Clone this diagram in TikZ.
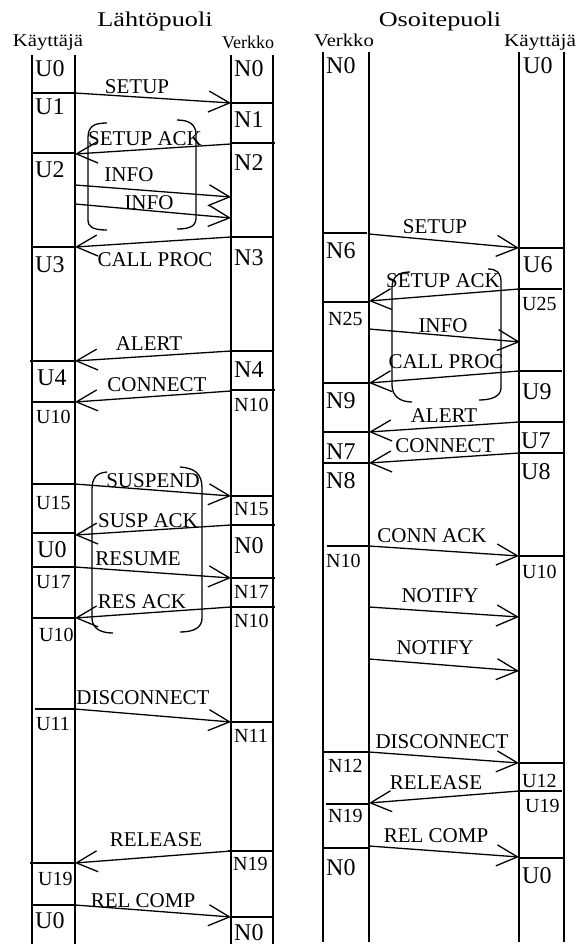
\documentclass[tikz,border=0pt]{standalone}
\usepackage{fontspec}
\setmainfont{Liberation Serif}
\usetikzlibrary{arrows.meta}
\tikzset{
  life/.style={line width=1.3pt},
  divline/.style={line width=1.3pt},
  msg/.style={line width=1.3pt,-{Straight Barb[length=21pt,width=21pt,line width=1.3pt]}},
  lbl/.style={font=\fontsize{21}{21}\selectfont,anchor=base,inner sep=0pt},
  bigst/.style={font=\fontsize{24}{24}\selectfont,anchor=base west,inner sep=0pt},
  smst/.style={font=\fontsize{20}{20}\selectfont,anchor=base west,inner sep=0pt},
  ttl/.style={font=\fontsize{21}{21}\selectfont,anchor=base,inner sep=0pt,xscale=1.25},
  hdr/.style={font=\fontsize{18}{18}\selectfont,anchor=base,inner sep=0pt},
  brk/.style={line width=1.3pt}
}
\newcommand{\msgto}[8]{%
  \coordinate (#1s) at (#2,#3);
  \coordinate (#1e) at (#4,#5);
  \draw[msg] (#1s) -- (#1e);
  \node[lbl] (#1l) at (#6,#7) {#8};}
\newcommand{\dv}[3]{\draw[divline] (#1,#3) -- (#2,#3);}
\begin{document}
\begin{tikzpicture}[x=1pt,y=-1pt]
\fill[white] (0,0) rectangle (578,944);
\useasboundingbox (0,0) rectangle (578,944);
% titles and headers
\node[ttl] (t1) at (155,27) {Lähtöpuoli};
\node[ttl] (t2) at (440,27) {Osoitepuoli};
\node[hdr,xscale=1.15] (h1) at (48,47) {Käyttäjä};
\node[hdr] (h2) at (248,49) {Verkko};
\node[hdr,xscale=1.15] (h3) at (344,47) {Verkko};
\node[hdr,xscale=1.18] (h4) at (540,47) {Käyttäjä};
% lifelines
\draw[life] (32,55) -- (32,944);
\draw[life] (75,55) -- (75,944);
\draw[life] (231,55) -- (231,944);
\draw[life] (273,55) -- (273,944);
\draw[life] (323,52) -- (323,942);
\draw[life] (369,52) -- (369,942);
\draw[life] (519,52) -- (519,942);
\draw[life] (564,52) -- (564,942);
% left user column
\node[bigst] (a1) at (35,77) {U0};
\dv{32}{75}{93}
\node[bigst] (a2) at (35,115) {U1};
\dv{32}{75}{153}
\node[bigst] (a3) at (35,178) {U2};
\dv{32}{75}{247}
\node[bigst] (a4) at (35,272) {U3};
\dv{30}{75}{361}
\node[bigst] (a5) at (37,385) {U4};
\dv{32}{75}{402}
\node[smst] (a6) at (36,423) {U10};
\dv{32}{75}{484}
\node[smst] (a7) at (36,509) {U15};
\dv{32}{75}{533}
\node[bigst] (a8) at (37,557) {U0};
\dv{32}{75}{567}
\node[smst] (a9) at (36,588) {U17};
\dv{32}{75}{618}
\node[smst] (a10) at (39,641) {U10};
\dv{35}{75}{709}
\node[smst] (a11) at (36,730) {U11};
\dv{30}{75}{863}
\node[smst] (a12) at (38,885) {U19};
\dv{32}{75}{905}
\node[bigst] (a13) at (35,928) {U0};
% left network column
\node[bigst] (b1) at (234,77) {N0};
\dv{231}{273}{103}
\node[bigst] (b2) at (234,128) {N1};
\dv{231}{275}{143}
\node[bigst] (b3) at (234,171) {N2};
\dv{231}{273}{237}
\node[bigst] (b4) at (234,265) {N3};
\dv{231}{273}{351}
\node[bigst] (b5) at (234,377) {N4};
\dv{231}{275}{390}
\node[smst] (b6) at (234,411) {N10};
\dv{231}{273}{496}
\node[smst] (b7) at (234,515) {N15};
\dv{231}{275}{525}
\node[bigst] (b8) at (234,553) {N0};
\dv{231}{275}{578}
\node[smst] (b9) at (234,598) {N17};
\dv{231}{275}{607}
\node[smst] (b10) at (234,627) {N10};
\dv{231}{273}{722}
\node[smst] (b11) at (234,742) {N11};
\dv{228}{273}{851}
\node[smst] (b12) at (233,870) {N19};
\dv{231}{273}{917}
\node[bigst] (b13) at (234,940) {N0};
% left messages
\msgto{m1}{75}{93}{231}{103}{137}{94}{SETUP}
\msgto{m2}{231}{144}{75}{154}{145}{146}{SETUP ACK}
\msgto{m3}{75}{185}{231}{197}{129}{182}{INFO}
\msgto{m4}{75}{204}{231}{218}{149}{209}{INFO}
\msgto{m5}{231}{237}{75}{247}{155}{266}{CALL PROC}
\msgto{m6}{231}{351}{75}{361}{149}{350}{ALERT}
\msgto{m7}{231}{391}{75}{402}{157}{391}{CONNECT}
\msgto{m8}{75}{484}{231}{496}{153}{487}{SUSPEND}
\msgto{m9}{231}{525}{75}{535}{148}{527}{SUSP ACK}
\msgto{m10}{75}{567}{231}{578}{138}{565}{RESUME}
\msgto{m11}{231}{607}{75}{618}{142}{608}{RES ACK}
\msgto{m12}{75}{709}{231}{722}{143}{704}{DISCONNECT}
\msgto{m13}{231}{851}{75}{863}{156}{846}{RELEASE}
\msgto{m14}{75}{905}{231}{917}{143}{907}{REL COMP}
% left brackets
\draw[brk] (107,123) .. controls (93,123) and (88,127) .. (88,138) -- (88,220) .. controls (88,227) and (93,230) .. (107,230);
\draw[brk] (177,120) .. controls (190,120) and (196,125) .. (196,135) -- (196,218) .. controls (196,226) and (190,229) .. (177,229);
\draw[brk] (107,472) .. controls (96,473) and (92,478) .. (92,490) -- (92,618) .. controls (92,628) and (100,633) .. (113,633);
\draw[brk] (180,467) .. controls (195,468) and (202,474) .. (202,488) -- (202,618) .. controls (202,627) and (195,632) .. (180,632);
% right network column
\node[bigst] (c1) at (326,74) {N0};
\dv{323}{367}{233}
\node[bigst] (c2) at (326,258) {N6};
\dv{323}{369}{302}
\node[smst] (c3) at (328,325) {N25};
\dv{323}{369}{383}
\node[bigst] (c4) at (326,408) {N9};
\dv{323}{369}{432}
\node[bigst] (c5) at (326,459) {N7};
\dv{323}{369}{463}
\node[bigst] (c6) at (326,488) {N8};
\dv{327}{369}{546}
\node[smst] (c7) at (326,567) {N10};
\dv{323}{369}{752}
\node[smst] (c8) at (328,772) {N12};
\dv{326}{369}{804}
\node[smst] (c9) at (328,822) {N19};
\dv{323}{369}{848}
\node[bigst] (c10) at (326,875) {N0};
% right user column
\node[bigst] (d1) at (523,74) {U0};
\dv{519}{564}{248}
\node[bigst] (d2) at (523,272) {U6};
\dv{519}{562}{289}
\node[smst] (d3) at (522,310) {U25};
\dv{519}{562}{371}
\node[bigst] (d4) at (522,399) {U9};
\dv{519}{564}{422}
\node[bigst] (d5) at (521,448) {U7};
\dv{519}{564}{453}
\node[bigst] (d6) at (521,479) {U8};
\dv{519}{564}{556}
\node[smst] (d7) at (522,578) {U10};
\dv{519}{564}{763}
\node[smst] (d8) at (522,787) {U12};
\dv{519}{562}{791}
\node[smst] (d9) at (525,812) {U19};
\dv{519}{564}{858}
\node[bigst] (d10) at (522,883) {U0};
% right messages
\msgto{r1}{369}{234}{519}{248}{435}{233}{SETUP}
\msgto{r2}{519}{289}{369}{301}{443}{287}{SETUP ACK}
\msgto{r3}{369}{329}{520}{342}{443}{332}{INFO}
\msgto{r4}{519}{371}{369}{383}{446}{368}{CALL PROC}
\msgto{r5}{519}{422}{369}{432}{444}{422}{ALERT}
\msgto{r6}{519}{453}{369}{463}{445}{452}{CONNECT}
\msgto{r7}{369}{546}{519}{556}{432}{542}{CONN ACK}
\msgto{r8}{369}{607}{519}{617}{440}{602}{NOTIFY}
\msgto{r9}{369}{659}{519}{671}{435}{654}{NOTIFY}
\msgto{r10}{369}{752}{519}{763}{442}{748}{DISCONNECT}
\msgto{r11}{519}{791}{369}{803}{436}{789}{RELEASE}
\msgto{r12}{369}{846}{519}{857}{436}{842}{REL COMP}
% right bracket
\draw[brk] (410,272) .. controls (398,272) and (392,277) .. (392,288) -- (392,385) .. controls (392,396) and (400,402) .. (412,402);
\draw[brk] (488,269) .. controls (497,269) and (501,273) .. (501,282) -- (501,388) .. controls (501,396) and (492,400) .. (479,400);
\end{tikzpicture}
\end{document}
